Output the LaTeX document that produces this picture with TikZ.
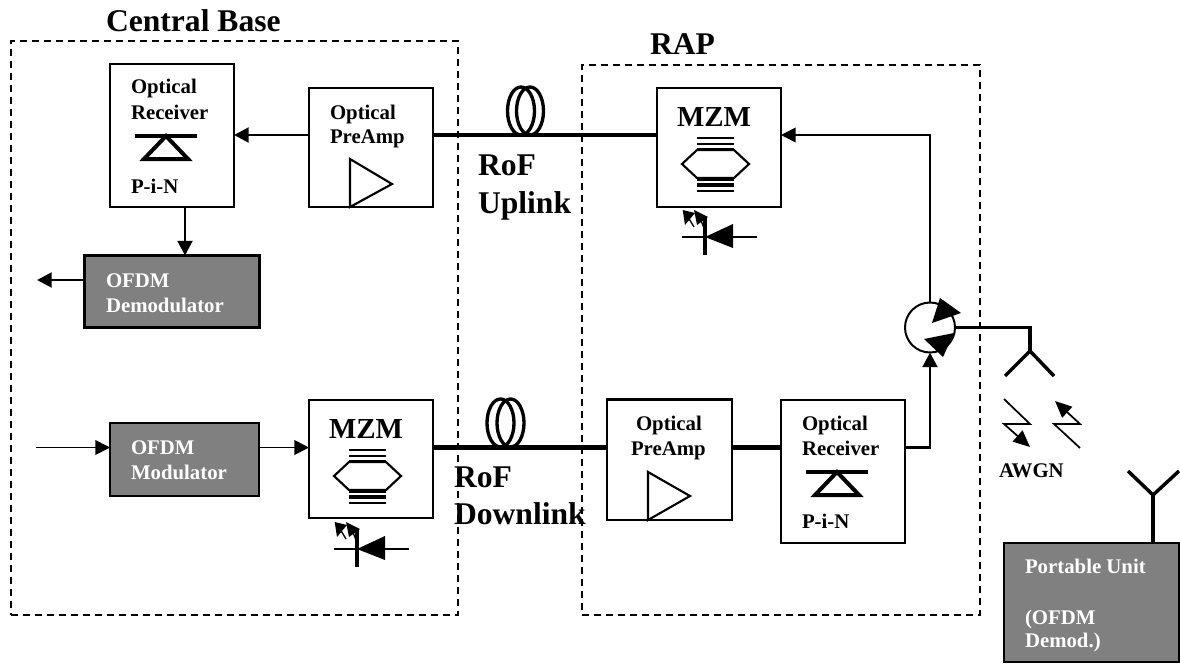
\documentclass[tikz,border=0pt]{standalone}
\usepackage{fontspec}
\setmainfont{Liberation Serif}
\usetikzlibrary{arrows.meta}
\tikzset{
  box/.style={draw=black,line width=1.8pt,fill=white,inner sep=0pt,outer sep=0pt},
  graybox/.style={draw=black,line width=1.8pt,fill=black!50,inner sep=0pt,outer sep=0pt},
  zone/.style={draw=black,line width=1.2pt,dash pattern=on 5.2pt off 3.8pt},
  sm/.style={anchor=base west,inner sep=0pt,outer sep=0pt,font=\fontsize{15.6}{18}\bfseries},
  smw/.style={sm,text=white},
  md/.style={anchor=base west,inner sep=0pt,outer sep=0pt,font=\fontsize{21.75}{24}\bfseries},
  lg/.style={anchor=base west,inner sep=0pt,outer sep=0pt,font=\fontsize{23.7}{26}\bfseries},
  thinline/.style={line width=1.3pt},
  midline/.style={line width=2.2pt},
  heavy/.style={line width=3.3pt},
  tip/.style={-{Triangle[length=11pt,width=11pt]}},
  bolt/.style={thinline,-{Triangle[length=12.5pt,width=11pt]}},
  coil/.style={line width=2.5pt,draw=black},
  symb/.style={line width=1.6pt,draw=black}
}
% MZM symbol: #1,#2 = box left, top (px); diode below
\newcommand{\mzmsym}[2]{%
 \begin{scope}[shift={(#1,#2)}]
  \draw[symb] (25,76)--(40,62)--(77,62)--(92,76)--(77,90)--(40,90)--cycle;
  \foreach \yy/\ww in {49.7/1.8,56/2.2,61.5/2.8,90.5/3,96.7/3,102.7/1.8}
    \draw[line width=\ww pt] (40,\yy)--(77,\yy);
  \draw[line width=1.4pt] (25,149)--(100,149);
  \fill (48,149)--(76,136)--(76,160)--cycle;
  \draw[line width=3pt] (48,129)--(48,167);
  \fill (25.7,122)--(38,125)--(28,137)--cycle;
  \draw[line width=1pt] (31,129)--(37,139);
  \fill (37,122)--(51,129)--(40,137)--cycle;
  \draw[line width=1pt] (43,130)--(47,140);
 \end{scope}}
% detector symbol
\newcommand{\pinsym}[2]{%
 \begin{scope}[shift={(#1,#2)}]
  \draw[line width=3pt] (25,72)--(87,72);
  \draw[line width=3pt,line join=miter] (56,72)--(34,95)--(78,95)--cycle;
 \end{scope}}
\begin{document}
\begin{tikzpicture}[x=0.75pt,y=-0.75pt]
\useasboundingbox (0,0) rectangle (1180,664);
% zones
\node[zone,minimum width=335.25pt,minimum height=430.5pt,inner sep=0pt] (cb) at (234.5,328) {};
\node[zone,minimum width=298.5pt,minimum height=412.5pt,inner sep=0pt] (rap) at (781,340) {};
\node[lg] (cbl) at (106,31) {Central Base};
\node[lg] (rapl) at (650,54) {RAP};
% coordinates of the rows
\coordinate (rowU) at (0,135);
\coordinate (rowD) at (0,447.5);
\coordinate (rowO) at (0,280);
\coordinate (drop) at (185,0);
\coordinate (src) at (36,447.5);
\coordinate (out) at (37,280);
% boxes
\node[box,minimum width=93pt,minimum height=107.25pt] (recvU) at (172,135.5) {};
\node[box,minimum width=93pt,minimum height=89.25pt] (preU) at (371,147.5) {};
\node[box,minimum width=93pt,minimum height=89.25pt] (mzmU) at (719,147.5) {};
\node[graybox,minimum width=131pt,minimum height=54pt] (demod) at (172,291.5) {};
\node[graybox,minimum width=111.75pt,minimum height=54.75pt] (mod) at (184.5,459.5) {};
\node[box,minimum width=93pt,minimum height=88.5pt] (mzmD) at (371,459) {};
\node[box,minimum width=93.75pt,minimum height=90.4pt] (preD) at (669.5,459.75) {};
\node[box,minimum width=93pt,minimum height=107.25pt] (recvD) at (843,471.5) {};
\node[graybox,minimum width=131.25pt,minimum height=89.25pt,anchor=north west] (port) at (1004,543) {};
\node[draw=black,line width=1.5pt,fill=white,circle,minimum size=37.5pt,inner sep=0pt,outer sep=0pt] (circ) at (930,327.5) {};
% connectors
\draw[heavy] (preU.east |- rowU) -- (mzmU.west |- rowU);
\draw[heavy] (preD.west |- rowD) -- (mzmD.east |- rowD);
\draw[heavy] (preD.east |- rowD) -- (recvD.west |- rowD);
\draw[midline,tip] (preU.west |- rowU) -- (recvU.east |- rowU);
\draw[midline,tip] (drop |- recvU.south) -- (drop |- demod.north);
\draw[midline,tip] (demod.west |- rowO) -- (out);
\draw[thinline,tip] (src) -- (mod.west |- rowD);
\draw[thinline,tip] (mod.east |- rowD) -- (mzmD.west |- rowD);
\draw[thinline,tip] (circ.north) -- (circ.north |- rowU) -- (mzmU.east |- rowU);
\draw[midline,tip] (recvD.east |- rowD) -- (circ.south |- rowD) -- (circ.south);
\coordinate (antJ) at (1030,351);
\draw[line width=2.6pt] (circ.east) -| (antJ);
\coordinate (antL) at (1005,376);
\coordinate (antR) at (1054,376);
\draw[line width=2.6pt] (antL) -- (antJ) -- (antR);
\coordinate (pJ) at (1153,495);
\coordinate (pL) at (1128,471);
\coordinate (pR) at (1179,471);
\draw[line width=2.6pt] (pL) -- (pJ) -- (pR);
\draw[line width=2.6pt] (pJ) -- (pJ |- port.north);
% circulator arrows
\fill (961,313)--(940,298)--(932,323)--cycle;
\fill (924,339)--(954,333)--(943,357)--cycle;
% fibre coils
\draw[coil] (521,111) ellipse [x radius=13.5,y radius=24];
\draw[coil] (530,111) ellipse [x radius=13.5,y radius=24];
\draw[coil] (500.5,423) ellipse [x radius=13.5,y radius=24];
\draw[coil] (510.5,423) ellipse [x radius=13.5,y radius=24];
% amplifiers
\draw[symb,fill=white] (350,159)--(392,184)--(350,207)--cycle;
\draw[symb,fill=white] (648,472)--(690,496)--(648,520)--cycle;
% modulators and detectors
\mzmsym{657}{88}
\mzmsym{309}{400}
\pinsym{110}{64}
\pinsym{781}{400}
% lightning
\draw[bolt] (1004,399)--(1030,424)--(1004,424)--(1030,447);
\draw[bolt] (1080,448)--(1054,424)--(1080,424)--(1055,401);
% labels
\node[sm] (t1) at (131,93) {Optical};
\node[sm] (t2) at (131,119) {Receiver};
\node[sm] (t3) at (131,193) {P-i-N};
\node[sm] (t4) at (330,119) {Optical};
\node[sm] (t5) at (330,143) {PreAmp};
\node[md] (t6) at (677,126) {MZM};
\node[md] (t7) at (329,438) {MZM};
\node[lg] (t8) at (478,175) {RoF};
\node[lg] (t9) at (478,213) {Uplink};
\node[lg] (t10) at (454,487) {RoF};
\node[lg] (t11) at (454,524) {Downlink};
\node[smw] (t12) at (106,287) {OFDM};
\node[smw] (t13) at (106,312) {Demodulator};
\node[smw] (t14) at (131,454) {OFDM};
\node[smw] (t15) at (131,479) {Modulator};
\node[sm] (t16) at (636,430) {Optical};
\node[sm] (t17) at (631,455) {PreAmp};
\node[sm] (t18) at (802,430) {Optical};
\node[sm] (t19) at (802,455) {Receiver};
\node[sm] (t20) at (802,528) {P-i-N};
\node[sm] (t21) at (999,477) {AWGN};
\node[smw] (t22) at (1025,573) {Portable Unit};
\node[smw] (t23) at (1025,624) {(OFDM};
\node[smw] (t24) at (1025,647) {Demod.)};
\end{tikzpicture}
\end{document}
